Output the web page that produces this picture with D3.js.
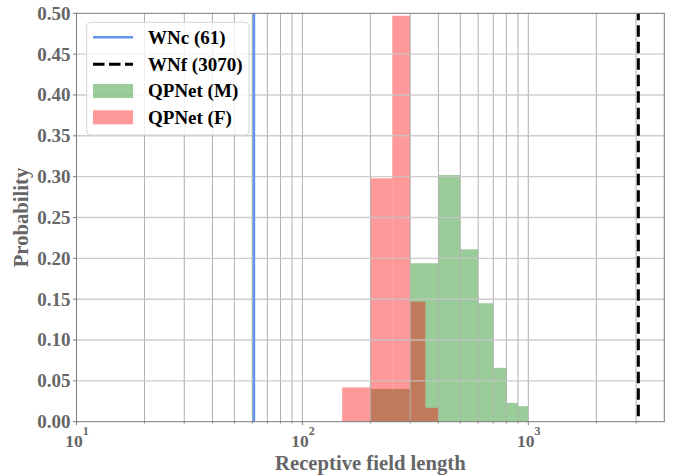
<!DOCTYPE html>
<html>
<head>
<meta charset="utf-8">
<script src="https://cdn.jsdelivr.net/npm/d3@7"></script>
<style>
  html, body { margin: 0; padding: 0; background: #fff; }
  svg { display: block; }
  text { font-family: "Liberation Serif", "Times New Roman", serif; font-weight: bold; }
</style>
</head>
<body>
<svg id="chart" width="676" height="476"></svg>
<script>
// ---- data ----
const greenEdges  = [200, 300, 400, 500, 600, 700, 800, 900, 1000];
const greenValues = [0.040, 0.194, 0.302, 0.211, 0.145, 0.066, 0.023, 0.019];
const redEdges    = [150, 200, 250, 300, 350, 400];
const redValues   = [0.042, 0.298, 0.497, 0.147, 0.017];
const wncValue = 61;
const wnfValue = 3070;
const yTicks = [0, 0.05, 0.10, 0.15, 0.20, 0.25, 0.30, 0.35, 0.40, 0.45, 0.50];
const xMajorTicks = [10, 100, 1000];
const xExponents = ["1", "2", "3"];
const legendLabels = ["WNc (61)", "WNf (3070)", "QPNet (M)", "QPNet (F)"];

// ---- layout ----
const L = 76.5, R = 664.3, T = 13.3, B = 421.7;
const svg = d3.select("#chart");
const x = d3.scaleLog().domain([10, 4000]).range([L, R]);
const y = d3.scaleLinear().domain([0, 0.5]).range([B, T]);
const textGrey = "#666666";
const spineGrey = "#7a7a7a";

function binsOf(edges, values) {
  return values.map((v, i) => ({ x0: edges[i], x1: edges[i + 1], v }));
}

// bars
const gBars = svg.append("g");
gBars.selectAll("rect.m").data(binsOf(greenEdges, greenValues)).join("rect")
  .attr("class", "m")
  .attr("x", d => x(d.x0)).attr("width", d => x(d.x1) - x(d.x0))
  .attr("y", d => y(d.v)).attr("height", d => y(0) - y(d.v))
  .attr("fill", "#008000").attr("fill-opacity", 0.4);
gBars.selectAll("rect.f").data(binsOf(redEdges, redValues)).join("rect")
  .attr("class", "f")
  .attr("x", d => x(d.x0)).attr("width", d => x(d.x1) - x(d.x0))
  .attr("y", d => y(d.v)).attr("height", d => y(0) - y(d.v))
  .attr("fill", "#ff0000").attr("fill-opacity", 0.4);

// grid (drawn above bars, like matplotlib)
const allXTicks = x.ticks().filter(t => t > 10 && t < 4000);
const gGrid = svg.append("g");
gGrid.selectAll("line.v").data(allXTicks).join("line")
  .attr("class", "v")
  .attr("x1", d => x(d)).attr("x2", d => x(d))
  .attr("y1", T).attr("y2", B)
  .attr("stroke", "#b0b0b0").attr("stroke-width", 1);
gGrid.selectAll("line.h").data(yTicks.filter(t => t > 0 && t < 0.5)).join("line")
  .attr("class", "h")
  .attr("x1", L).attr("x2", R)
  .attr("y1", d => y(d)).attr("y2", d => y(d))
  .attr("stroke", "#c4c4c4").attr("stroke-opacity", 0.85).attr("stroke-width", 1.4);

// reference lines
svg.append("line")
  .attr("x1", x(wncValue)).attr("x2", x(wncValue)).attr("y1", B).attr("y2", T)
  .attr("stroke", "#6495ed").attr("stroke-width", 2.6);
svg.append("line")
  .attr("x1", x(wnfValue)).attr("x2", x(wnfValue)).attr("y1", T).attr("y2", B)
  .attr("stroke", "#000").attr("stroke-width", 3)
  .attr("stroke-dasharray", "11.5,5").attr("stroke-dashoffset", 4.5);

// spines
svg.append("rect").attr("x", L).attr("y", T).attr("width", R - L).attr("height", B - T)
  .attr("fill", "none").attr("stroke", spineGrey).attr("stroke-width", 1);

// y axis ticks + labels
const yAxis = svg.append("g");
yAxis.selectAll("line").data(yTicks).join("line")
  .attr("x1", L - 3.5).attr("x2", L).attr("y1", d => y(d)).attr("y2", d => y(d))
  .attr("stroke", spineGrey).attr("stroke-width", 1);
yAxis.selectAll("text").data(yTicks).join("text")
  .attr("x", L - 6).attr("y", d => y(d)).attr("dy", "0.34em")
  .attr("text-anchor", "end").attr("font-size", 19).attr("fill", textGrey)
  .text(d => d3.format(".2f")(d));

// x axis ticks
const xAxis = svg.append("g");
const minorTicks = x.ticks().filter(t => !xMajorTicks.includes(t) && t < 4000);
xAxis.selectAll("line.maj").data(xMajorTicks).join("line")
  .attr("class", "maj")
  .attr("x1", d => x(d)).attr("x2", d => x(d)).attr("y1", B).attr("y2", B + 3.5)
  .attr("stroke", spineGrey).attr("stroke-width", 1);
xAxis.selectAll("line.min").data(minorTicks).join("line")
  .attr("class", "min")
  .attr("x1", d => x(d)).attr("x2", d => x(d)).attr("y1", B).attr("y2", B + 2)
  .attr("stroke", spineGrey).attr("stroke-width", 0.8);
const xl = xAxis.selectAll("text").data(xMajorTicks).join("text")
  .attr("x", d => x(d) + 0.5).attr("y", 446.5)
  .attr("text-anchor", "middle").attr("font-size", 17.5).attr("fill", textGrey);
xl.append("tspan").text("10");
xl.append("tspan").attr("font-size", 12).attr("dy", -12).text((d, i) => xExponents[i]);

// axis titles
svg.append("text")
  .attr("x", (L + R) / 2).attr("y", 470)
  .attr("text-anchor", "middle").attr("font-size", 20.7).attr("fill", textGrey)
  .text("Receptive field length");
svg.append("text")
  .attr("transform", `translate(28,${(T + B) / 2}) rotate(-90)`)
  .attr("text-anchor", "middle").attr("font-size", 20.7).attr("fill", textGrey)
  .text("Probability");

// legend
const lg = svg.append("g");
lg.append("rect").attr("x", 86.7).attr("y", 22.3).attr("width", 162.3).attr("height", 112.7)
  .attr("rx", 4).attr("fill", "#fff").attr("fill-opacity", 0.8)
  .attr("stroke", "#d6d6d6").attr("stroke-width", 1);
const rowY = [37.3, 64.3, 91, 117.3];
const hx0 = 93, hx1 = 133;
lg.append("line").attr("x1", hx0).attr("x2", hx1).attr("y1", rowY[0]).attr("y2", rowY[0])
  .attr("stroke", "#6495ed").attr("stroke-width", 2.6);
lg.append("line").attr("x1", hx0).attr("x2", hx1).attr("y1", rowY[1]).attr("y2", rowY[1])
  .attr("stroke", "#000").attr("stroke-width", 3).attr("stroke-dasharray", "11.5,4.5");
lg.append("rect").attr("x", hx0).attr("y", rowY[2] - 7).attr("width", hx1 - hx0).attr("height", 14)
  .attr("fill", "#008000").attr("fill-opacity", 0.4);
lg.append("rect").attr("x", hx0).attr("y", rowY[3] - 7).attr("width", hx1 - hx0).attr("height", 14)
  .attr("fill", "#ff0000").attr("fill-opacity", 0.4);
lg.selectAll("text").data(legendLabels).join("text")
  .attr("x", 148).attr("y", (d, i) => rowY[i]).attr("dy", "0.34em")
  .attr("font-size", 19).attr("fill", "#000")
  .text(d => d);
</script>
</body>
</html>
